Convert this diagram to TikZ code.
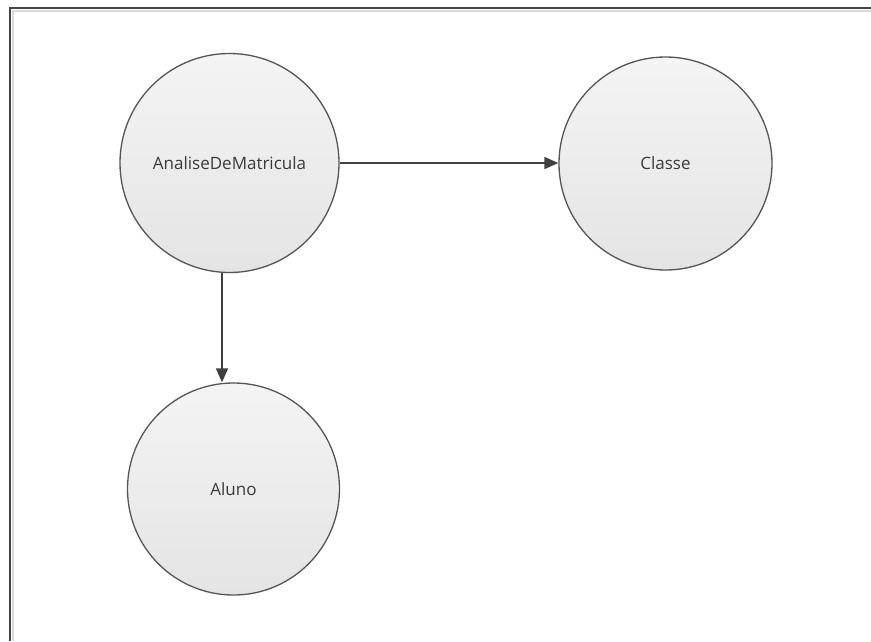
\documentclass[tikz,border=0pt]{standalone}
\usepackage{fontspec}
\setmainfont{Open Sans}
\usetikzlibrary{arrows.meta}
\definecolor{framedark}{HTML}{454545}
\definecolor{framelight}{HTML}{DADADA}
\definecolor{circline}{HTML}{555555}
\definecolor{circtop}{HTML}{F4F4F4}
\definecolor{circbot}{HTML}{E4E4E4}
\definecolor{txt}{HTML}{3A3A3A}
\definecolor{arrcol}{HTML}{404040}
\tikzset{
  entity/.style={circle, draw=circline, line width=1.3pt, top color=circtop, bottom color=circbot,
    minimum size=#1, inner sep=0pt, text=txt, font=\fontsize{17}{20}\selectfont},
  conn/.style={draw=arrcol, line width=1.6pt, -{Triangle[length=14pt,width=12pt]}}
}
\begin{document}
\begin{tikzpicture}[x=1pt,y=-1pt]
\useasboundingbox (0,0) rectangle (871,641);
\fill[white] (0,0) rectangle (871,641);
% frame
\draw[framelight, line width=2pt] (12.5,641) -- (12.5,10.5) -- (871,10.5);
\draw[framedark, line width=2pt] (10,641) -- (10,8) -- (871,8);
% nodes
\node[entity=219pt] (A) at (229.5,163) {AnaliseDeMatricula};
\node[entity=213pt] (C) at (665.5,163.5) {Classe};
\node[entity=212pt] (L) at (233.5,489) {Aluno};
\coordinate (v) at (222,0);
\coordinate (h) at (0,163);
% connectors
\draw[conn] (A.east |- h) -- (C.west |- h);
\draw[conn] (A.south -| v) -- (L.north -| v);
\end{tikzpicture}
\end{document}
